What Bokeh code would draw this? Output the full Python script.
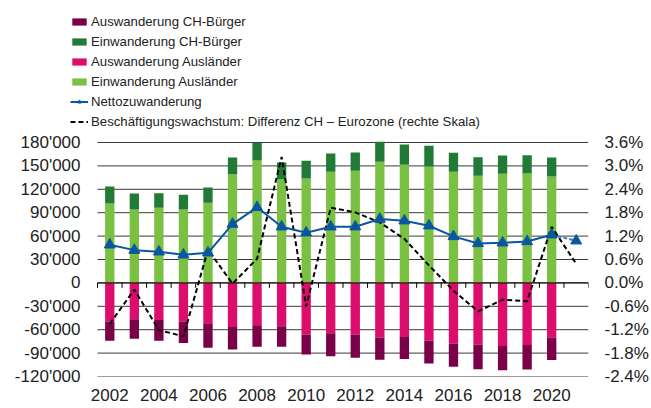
from bokeh.plotting import figure
from bokeh.models import (Range1d, LinearAxis, FixedTicker, Legend, LegendItem,
                          ColumnDataSource, PrintfTickFormatter)
from bokeh.embed import file_html
from bokeh.resources import INLINE

# ---- data ----
years = list(range(2002, 2021))
years_all = list(range(2002, 2022))
ein_auslaender = [101800, 94100, 96200, 94100, 102600, 139400, 156900, 133000, 133800, 142400,
                  143700, 155200, 151400, 149200, 142400, 137300, 139800, 140300, 136400]
ein_ch = [21800, 20500, 18800, 18800, 19700, 21400, 22800, 21400, 22700, 23500,
          23500, 25700, 26000, 26500, 24400, 23900, 23500, 23500, 24400]
aus_auslaender = [49700, 46700, 47600, 49700, 52700, 56600, 54400, 55700, 66000, 64700,
                  66000, 70300, 69400, 73700, 77600, 78900, 81000, 79700, 70300]
aus_ch = [24400, 24900, 26500, 27400, 30400, 28700, 27500, 26200, 25700, 29200,
          30000, 28300, 28300, 29600, 30000, 31700, 30900, 31300, 28700]
netto = [48900, 42000, 39900, 36000, 38600, 75400, 96900, 72000, 64300, 72000,
         72000, 81900, 79700, 73300, 59600, 50600, 51400, 53100, 61700, 54000]
besch_diff = [-1.05, -0.17, -1.21, -1.37, 0.85, -0.02, 0.62, 3.23, -0.60, 1.93,
              1.81, 1.55, 1.13, 0.45, -0.20, -0.73, -0.43, -0.47, 1.44, 0.49]

left_ticks = list(range(-120000, 180001, 30000))
right_ticks = [round(-2.4 + 0.6 * i, 1) for i in range(11)]
x_label_years = list(range(2002, 2021, 2))

FONT = "Liberation Sans"
TXT = "#222222"
C_AUS_CH = "#7a0049"
C_EIN_CH = "#217a36"
C_AUS_AUSL = "#dc0d6d"
C_EIN_AUSL = "#7ac143"
C_NET = "#0b56a0"

# ---- layout (pixels) ----
FRAME_W, FRAME_H = 518, 376
PAD_LEFT_PX = 27     # legend area left of the value area
PAD_TOP_PX = 142     # legend area above the value area
VAL_H_PX = FRAME_H - PAD_TOP_PX
X0, X1 = years_all[0] - 0.5, years_all[-1] + 0.5
Y0, Y1 = left_ticks[0], left_ticks[-1]
R0, R1 = right_ticks[0], right_ticks[-1]
px_per_year = (FRAME_W - PAD_LEFT_PX) / (X1 - X0)
y_per_px = (Y1 - Y0) / VAL_H_PX
r_per_px = (R1 - R0) / VAL_H_PX

# ---- derived stacks ----
src = ColumnDataSource(dict(
    x=years,
    ein_a_top=ein_auslaender,
    ein_ch_top=[a + b for a, b in zip(ein_auslaender, ein_ch)],
    aus_a_bot=[-a for a in aus_auslaender],
    aus_ch_bot=[-(a + b) for a, b in zip(aus_auslaender, aus_ch)],
))

p = figure(frame_width=FRAME_W, frame_height=FRAME_H,
           x_range=Range1d(X0 - PAD_LEFT_PX / px_per_year, X1),
           y_range=Range1d(Y0, Y1 + PAD_TOP_PX * y_per_px),
           output_backend="svg", toolbar_location=None,
           min_border_left=70, min_border_right=63, min_border_top=0, min_border_bottom=32)
p.extra_y_ranges = {"pct": Range1d(R0, R1 + PAD_TOP_PX * r_per_px)}
p.outline_line_color = None
p.background_fill_color = "white"
p.xgrid.visible = False
p.ygrid.visible = False

# gridlines (drawn across the value area only)
p.segment(x0=[X0] * len(left_ticks), x1=[X1] * len(left_ticks), y0=left_ticks, y1=left_ticks,
          line_color="#3a3a3a", line_width=1, level="underlay")

# left axis
p.yaxis.ticker = FixedTicker(ticks=left_ticks)
p.yaxis.major_label_overrides = {t: f"{t:,}".replace(",", "'") for t in left_ticks}
p.yaxis.axis_line_color = None
p.yaxis.major_tick_line_color = None
p.yaxis.minor_tick_line_color = None
p.yaxis.major_tick_out = 0
p.yaxis.major_tick_in = 0
p.yaxis.major_label_standoff = -10
p.yaxis.major_label_text_font = FONT
p.yaxis.major_label_text_font_size = "17px"
p.yaxis.major_label_text_color = TXT

# right axis
ra = LinearAxis(y_range_name="pct", ticker=FixedTicker(ticks=right_ticks),
                formatter=PrintfTickFormatter(format="%.1f%%"))
ra.axis_line_color = None
ra.major_tick_line_color = None
ra.minor_tick_line_color = None
ra.major_tick_out = 0
ra.major_tick_in = 0
ra.major_label_standoff = 16
ra.major_label_text_font = FONT
ra.major_label_text_font_size = "17px"
ra.major_label_text_color = TXT
p.add_layout(ra, "right")

# bottom labels axis
p.xaxis.ticker = FixedTicker(ticks=x_label_years)
p.xaxis.axis_line_color = None
p.xaxis.major_tick_line_color = None
p.xaxis.minor_tick_line_color = None
p.xaxis.major_tick_out = 0
p.xaxis.major_tick_in = 0
p.xaxis.major_label_standoff = 12
p.xaxis.major_label_text_font = FONT
p.xaxis.major_label_text_font_size = "17px"
p.xaxis.major_label_text_color = TXT

# bars
W = 0.38
r_ein_a = p.vbar(x="x", bottom=0, top="ein_a_top", width=W, source=src,
                 fill_color=C_EIN_AUSL, line_color=None)
r_ein_ch = p.vbar(x="x", bottom="ein_a_top", top="ein_ch_top", width=W, source=src,
                  fill_color=C_EIN_CH, line_color=None)
r_aus_a = p.vbar(x="x", top=0, bottom="aus_a_bot", width=W, source=src,
                 fill_color=C_AUS_AUSL, line_color=None)
r_aus_ch = p.vbar(x="x", top="aus_a_bot", bottom="aus_ch_bot", width=W, source=src,
                  fill_color=C_AUS_CH, line_color=None)

# zero line with category-boundary ticks
bounds = [y - 0.5 for y in years_all] + [X1]
tick_len = 5 * y_per_px
p.segment(x0=[X0], x1=[X1], y0=[0], y1=[0], line_color="black", line_width=1)
p.segment(x0=bounds, y0=[0] * len(bounds), x1=bounds, y1=[-tick_len] * len(bounds),
          line_color="black", line_width=1)

# employment growth difference (right scale)
r_besch = p.line(years_all, besch_diff, y_range_name="pct", line_color="black",
                 line_width=2, line_dash="5 3")

# net migration
r_net = p.line(years_all[:-1], netto[:-1], line_color=C_NET, line_width=2)
p.line(years_all[-2:], netto[-2:], line_color="#3d7cc0", line_width=2, line_dash="4 2")
r_net_m = p.scatter(years_all, netto, marker="triangle", size=11,
                    fill_color=C_NET, line_color=C_NET)

LEG_ROWS, LEG_PITCH, LEG_TOP = 6, 20, 11
legend = Legend(items=[
    LegendItem(label="Auswanderung CH-Bürger", renderers=[r_aus_ch]),
    LegendItem(label="Einwanderung CH-Bürger", renderers=[r_ein_ch]),
    LegendItem(label="Auswanderung Ausländer", renderers=[r_aus_a]),
    LegendItem(label="Einwanderung Ausländer", renderers=[r_ein_a]),
    LegendItem(label="Nettozuwanderung", renderers=[r_net, r_net_m]),
    LegendItem(label="Beschäftigungswachstum: Differenz CH – Eurozone (rechte Skala)",
               renderers=[r_besch]),
], location=(0, FRAME_H - LEG_ROWS * LEG_PITCH - LEG_TOP))
legend.background_fill_alpha = 0
legend.border_line_color = None
legend.padding = 0
legend.margin = 0
legend.spacing = 0
legend.label_height = LEG_PITCH
legend.glyph_height = 9
legend.glyph_width = 18
legend.label_standoff = 3
legend.label_text_font = FONT
legend.label_text_font_size = "13.2px"
legend.label_text_color = TXT
p.add_layout(legend)

open("out.html", "w").write(file_html(p, INLINE))
